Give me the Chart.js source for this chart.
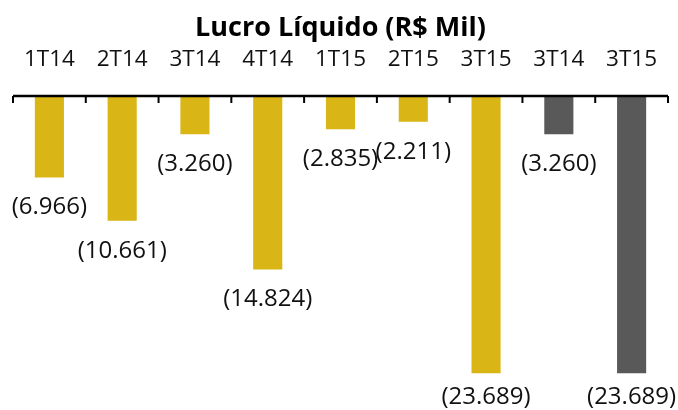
<!DOCTYPE html>
<html>
<head>
<meta charset="utf-8">
<script src="https://cdn.jsdelivr.net/npm/chart.js@4.4.1/dist/chart.umd.min.js"></script>
<style>
html,body{margin:0;padding:0;background:#fff;}
#wrap{width:678px;height:410px;}
</style>
</head>
<body>
<div id="wrap"><canvas id="c" width="678" height="410"></canvas></div>
<script>
const categories = ['1T14','2T14','3T14','4T14','1T15','2T15','3T15','3T14','3T15'];
const lucroLiquido = [-6966,-10661,-3260,-14824,-2835,-2211,-23689,-3260,-23689];
const barColors = ['#D9B515','#D9B515','#D9B515','#D9B515','#D9B515','#D9B515','#D9B515','#595959','#595959'];
const chartTitle = 'Lucro Líquido (R$ Mil)';

function fmt(v){
  const s = Math.abs(v).toString().replace(/\B(?=(\d{3})+(?!\d))/g,'.');
  return v < 0 ? '(' + s + ')' : s;
}

const axisPlugin = {
  id:'axisPlugin',
  afterDatasetsDraw(chart){
    const ctx = chart.ctx, a = chart.chartArea, xs = chart.scales.x;
    const n = categories.length;
    ctx.save();
    ctx.strokeStyle = '#000';
    ctx.lineWidth = 2.3;
    ctx.beginPath();
    ctx.moveTo(a.left, a.top);
    ctx.lineTo(a.right, a.top);
    ctx.stroke();
    ctx.lineWidth = 2;
    const w = (xs.right - xs.left) / n;
    for(let i=0;i<=n;i++){
      const x = xs.left + i*w;
      ctx.beginPath();
      ctx.moveTo(x, a.top);
      ctx.lineTo(x, a.top + 7);
      ctx.stroke();
    }
    const meta = chart.getDatasetMeta(0);
    ctx.fillStyle = '#111';
    ctx.font = '24px "Open Sans"';
    ctx.textAlign = 'center';
    ctx.textBaseline = 'middle';
    meta.data.forEach((bar,i)=>{
      const y = Math.min(bar.y + 30, 397);
      ctx.fillText(fmt(lucroLiquido[i]), bar.x, y);
    });
    ctx.restore();
  }
};

new Chart(document.getElementById('c'), {
  type:'bar',
  data:{
    labels:categories,
    datasets:[{
      data:lucroLiquido,
      backgroundColor:barColors,
      borderWidth:0,
      categoryPercentage:1,
      barPercentage:0.4
    }]
  },
  options:{
    responsive:false,
    animation:false,
    layout:{padding:{left:13,right:10,bottom:21.5,top:0}},
    plugins:{
      legend:{display:false},
      tooltip:{enabled:false},
      title:{
        display:true,
        text:chartTitle,
        color:'#000',
        font:{family:'"Open Sans"',size:27,weight:'bold'},
        padding:{top:12,bottom:-21.4}
      }
    },
    scales:{
      x:{
        position:'top',
        grid:{display:false,drawTicks:false},
        border:{display:false},
        ticks:{color:'#111',font:{family:'"Open Sans"',size:22.5},padding:23,maxRotation:0,autoSkip:false},
        afterFit(scale){ scale.paddingLeft = 0; scale.paddingRight = 0; }
      },
      y:{
        display:false,
        min:-25000,
        max:0
      }
    }
  },
  plugins:[axisPlugin]
});
</script>
</body>
</html>
